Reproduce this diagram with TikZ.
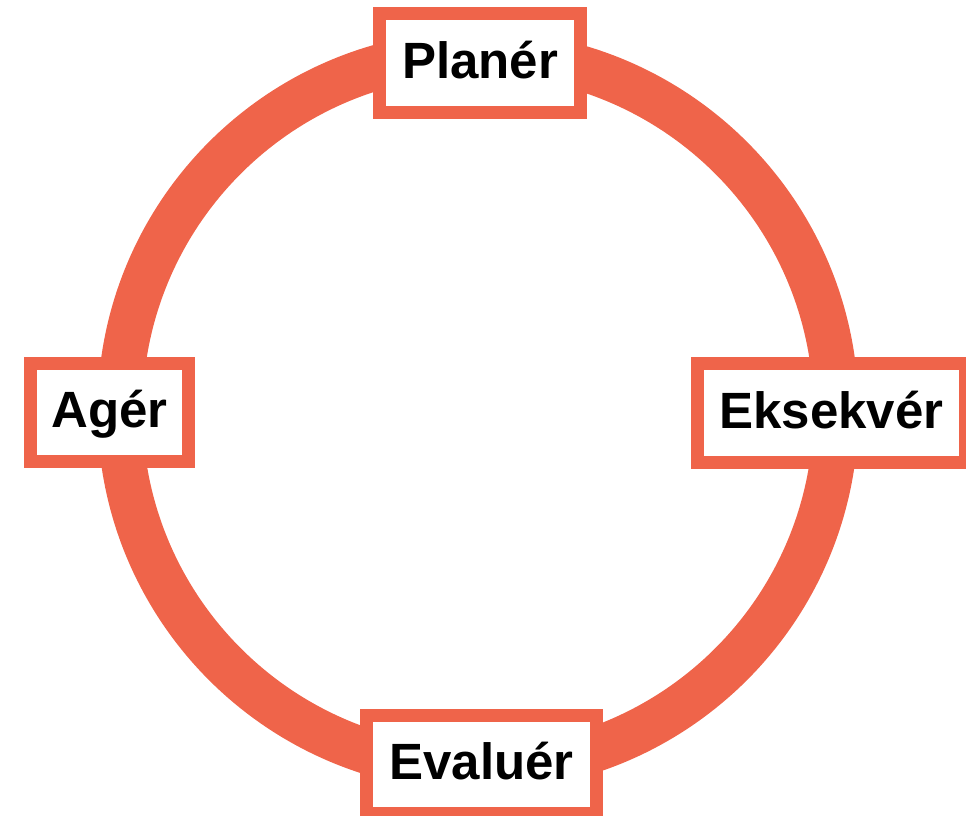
\documentclass[tikz,border=0pt]{standalone}
\usepackage{fontspec}
\setmainfont{Liberation Sans}
\definecolor{ringred}{RGB}{239,100,74}
\begin{document}
\begin{tikzpicture}[x=1pt,y=-1pt,
  stagebox/.style={draw=ringred,line width=13pt,fill=white,inner sep=0pt,outer sep=0pt,
    text height=30pt,text depth=0pt,
    font=\fontsize{51}{60}\selectfont\bfseries,text=black}]
\useasboundingbox (0,0) rectangle (966,815);
\coordinate (c) at (478,411);
\draw[ringred,line width=45pt] (c) circle[radius=358];
\node[stagebox,minimum width=201pt,minimum height=99pt] (plan) at (480,63) {Planér};
\node[stagebox,minimum width=158pt,minimum height=98pt] (ager) at (109.5,412.5) {Agér};
\node[stagebox,minimum width=268pt,minimum height=99pt] (eks) at (831.5,413) {Eksekvér};
\node[stagebox,minimum width=230pt,minimum height=98pt] (eval) at (481.5,764.5) {Evaluér};
\end{tikzpicture}
\end{document}
